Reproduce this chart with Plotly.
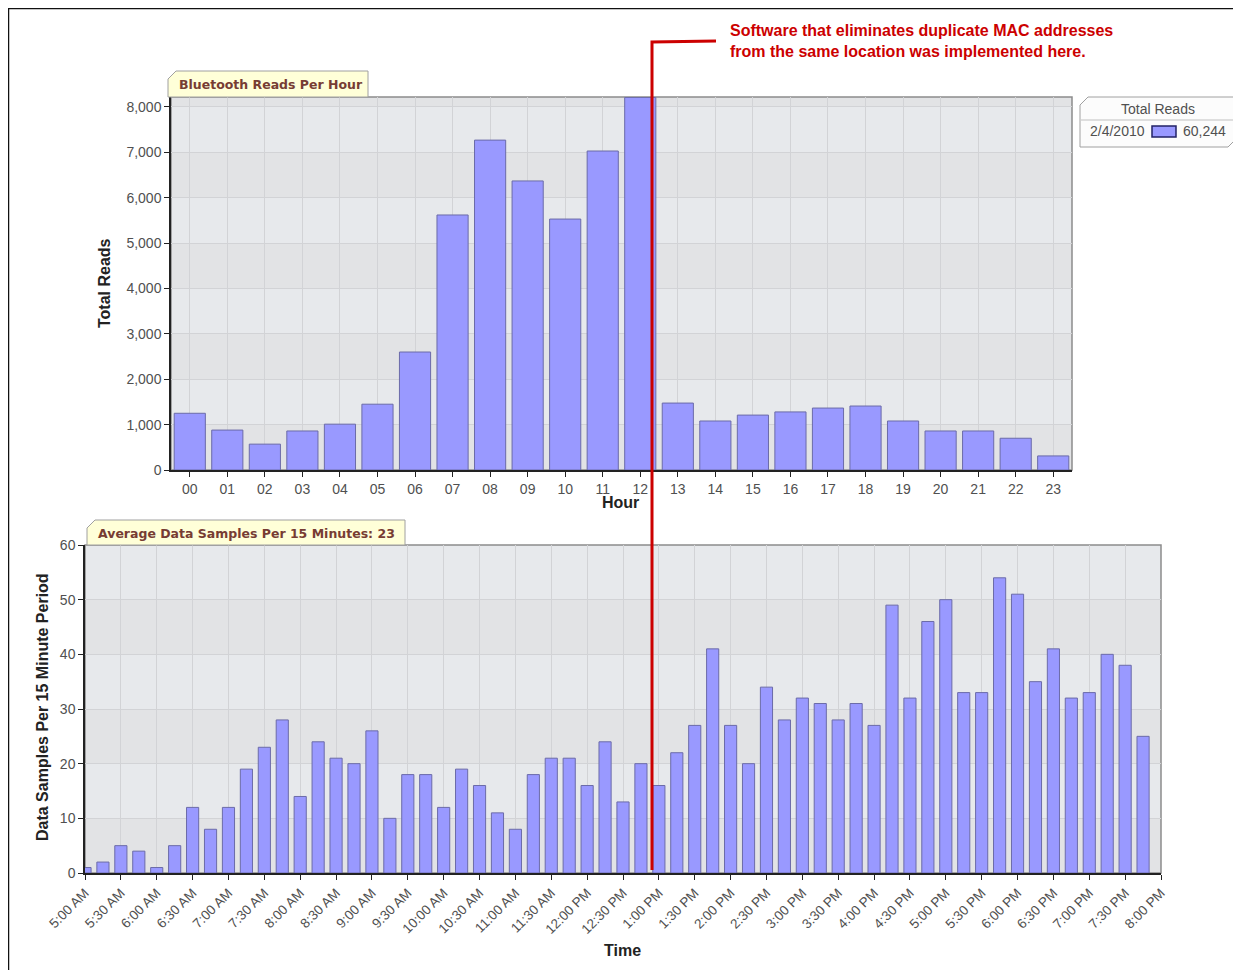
import pandas as pd
import plotly.graph_objects as go

# page body has an 8px margin, so the figure is a bit smaller than the window
OFF = 8
W, H = 1241 - OFF, 970 - OFF

# ---- data ----
hours = ["00", "01", "02", "03", "04", "05", "06", "07", "08", "09", "10", "11",
         "12", "13", "14", "15", "16", "17", "18", "19", "20", "21", "22", "23"]
reads_per_hour = [1250, 880, 570, 860, 1010, 1450, 2600, 5620, 7270, 6370, 5530, 7030,
                  8210, 1475, 1080, 1210, 1280, 1365, 1410, 1080, 860, 860, 700, 310]

samples_15min = [1, 2, 5, 4, 1, 5, 12, 8, 12, 19,
                 23, 28, 14, 24, 21, 20, 26, 10, 18, 18,
                 12, 19, 16, 11, 8, 18, 21, 21, 16, 24,
                 13, 20, 16, 22, 27, 41, 27, 20, 34, 28,
                 32, 31, 28, 31, 27, 49, 32, 46, 50, 33,
                 33, 54, 51, 35, 41, 32, 33, 40, 38, 25]
sample_times = pd.date_range("2010-02-04 05:00", periods=len(samples_15min), freq="15min")

legend_date = "2/4/2010"
legend_total = "60,244"
avg_samples = 23
note_text = ("Software that eliminates duplicate MAC addresses<br>"
             "from the same location was implemented here.")


def px(x):
    return (x - OFF) / W


def py(y):
    return 1 - (y - OFF) / H


BAR = "#9999FF"
BAR_LINE = "#6B6BA8"
GRID = "#D2D3D6"
TICKFONT = dict(family="Liberation Sans, Arial", size=14, color="#505050")
TITLEFONT = dict(family="Liberation Sans, Arial", size=16, color="#222222")
LEGFONT = dict(family="Liberation Sans, Arial", size=14, color="#505050")

fig = go.Figure()

fig.add_trace(go.Bar(x=hours, y=reads_per_hour, marker=dict(color=BAR, line=dict(color=BAR_LINE, width=1)),
                     xaxis="x", yaxis="y", showlegend=False))
fig.add_trace(go.Bar(x=sample_times, y=samples_15min, width=610000,
                     marker=dict(color=BAR, line=dict(color=BAR_LINE, width=1)),
                     xaxis="x2", yaxis="y2", showlegend=False))

axis_common = dict(showline=True, linecolor="#222222", linewidth=1.5, ticks="outside", ticklen=5,
                   tickcolor="#222222", showgrid=True, gridcolor=GRID, gridwidth=1,
                   tickfont=TICKFONT, zeroline=False, automargin=False)

fig.update_layout(
    width=W, height=H,
    margin=dict(l=0, r=0, t=0, b=0),
    paper_bgcolor="white", plot_bgcolor="#E4E5E8",
    bargap=0.17,
    xaxis=dict(domain=[px(171), px(1072)], anchor="y", range=[-0.5, 23.5], **axis_common),
    yaxis=dict(domain=[py(470), py(97)], anchor="x", range=[0, 8220],
               tickvals=list(range(0, 8001, 1000)), tickformat=",d", **axis_common),
    xaxis2=dict(domain=[px(85), px(1161)], anchor="y2",
                range=["2010-02-04 05:00", "2010-02-04 20:00"],
                tick0="2010-02-04 05:00", dtick=1800000, tickformat="%-I:%M %p", tickangle=-45,
                **{**axis_common, "tickfont": dict(family="Liberation Sans, Arial", size=13.5, color="#505050")}),
    yaxis2=dict(domain=[py(873), py(545)], anchor="x2", range=[0, 60], dtick=10, **axis_common),
)

shapes = []
# subtle alternating bands
for i in range(0, 9):
    shapes.append(dict(type="rect", xref="x domain", yref="y", x0=0, x1=1, y0=i * 1000,
                       y1=min((i + 1) * 1000, 8220), fillcolor="#E7E9EC" if i % 2 else "#E2E3E5",
                       line=dict(width=0), layer="below"))
for i in range(0, 6):
    shapes.append(dict(type="rect", xref="x2 domain", yref="y2", x0=0, x1=1, y0=i * 10,
                       y1=(i + 1) * 10, fillcolor="#E7E9EC" if i % 2 else "#E2E3E5",
                       line=dict(width=0), layer="below"))
# gray frames
shapes.append(dict(type="rect", xref="x domain", yref="y domain", x0=0, x1=1, y0=0, y1=1,
                   line=dict(color="#8C8C8C", width=1.5), layer="below"))
shapes.append(dict(type="rect", xref="x2 domain", yref="y2 domain", x0=0, x1=1, y0=0, y1=1,
                   line=dict(color="#8C8C8C", width=1.5), layer="below"))


def bevel_box(x0, y0, x1, y1, c, fill, tr_bevel=False):
    p = f"M {px(x0 + c)},{py(y0)} L {px(x1)},{py(y0)} "
    if tr_bevel:
        p += f"L {px(x1)},{py(y1 - c)} L {px(x1 - c)},{py(y1)} "
    else:
        p += f"L {px(x1)},{py(y1)} "
    p += f"L {px(x0)},{py(y1)} L {px(x0)},{py(y0 + c)} Z"
    return dict(type="path", xref="paper", yref="paper", path=p, fillcolor=fill,
                line=dict(color="#A0A0A0", width=1))


# title tabs
shapes.append(bevel_box(168, 71, 368, 97, 8, "#FFFFD8"))
shapes.append(bevel_box(87, 520, 405, 545, 8, "#FFFFD8"))
# legend box
shapes.append(bevel_box(1080, 97, 1236, 147, 8, "#FCFCFC", tr_bevel=True))
shapes.append(dict(type="line", xref="paper", yref="paper", x0=px(1081), x1=px(1236), y0=py(120), y1=py(120),
                   line=dict(color="#C0C0C0", width=1)))
shapes.append(dict(type="rect", xref="paper", yref="paper", x0=px(1152), x1=px(1176), y0=py(137), y1=py(126),
                   fillcolor=BAR, line=dict(color="#222266", width=1.5)))
# red marker line
shapes.append(dict(type="path", xref="paper", yref="paper",
                   path=f"M {px(716)},{py(41)} L {px(652)},{py(42)} L {px(652)},{py(870)}",
                   line=dict(color="#CC0000", width=3)))
# outer frame
shapes.append(dict(type="path", xref="paper", yref="paper",
                   path=f"M {px(8)},{py(970)} L {px(8)},{py(8)} L {px(1241)},{py(8)}",
                   line=dict(color="#111111", width=2.5)))

tabfont = dict(family="DejaVu Sans, Verdana", size=12.5, color="#773C33")
annotations = [
    dict(text="<b>Bluetooth Reads Per Hour</b>", x=px(177), y=py(85), xanchor="left", yanchor="middle",
         font=tabfont),
    dict(text=f"<b>Average Data Samples Per 15 Minutes: {avg_samples}</b>", x=px(96), y=py(533),
         xanchor="left", yanchor="middle", font=tabfont),
    dict(text="Total Reads", x=px(1158), y=py(109), xanchor="center", yanchor="middle", font=LEGFONT),
    dict(text=legend_date, x=px(1147), y=py(131), xanchor="right", yanchor="middle", font=LEGFONT),
    dict(text=legend_total, x=px(1181), y=py(131), xanchor="left", yanchor="middle", font=LEGFONT),
    dict(text="<b>Total Reads</b>", x=px(105), y=py(283), textangle=-90, xanchor="center", yanchor="middle",
         font=TITLEFONT),
    dict(text="<b>Hour</b>", x=px(620), y=py(502), xanchor="center", yanchor="middle", font=TITLEFONT),
    dict(text="<b>Data Samples Per 15 Minute Period</b>", x=px(42), y=py(707), textangle=-90,
         xanchor="center", yanchor="middle", font=TITLEFONT),
    dict(text="<b>Time</b>", x=px(622), y=py(950), xanchor="center", yanchor="middle", font=TITLEFONT),
    dict(text=f"<b>{note_text}</b>", x=px(728), y=py(41), xanchor="left", yanchor="middle", align="left",
         font=dict(family="Liberation Sans, Arial", size=16, color="#CC0000")),
]
for a in annotations:
    a.update(xref="paper", yref="paper", showarrow=False)

fig.update_layout(shapes=shapes, annotations=annotations)

fig.write_html("out.html")
